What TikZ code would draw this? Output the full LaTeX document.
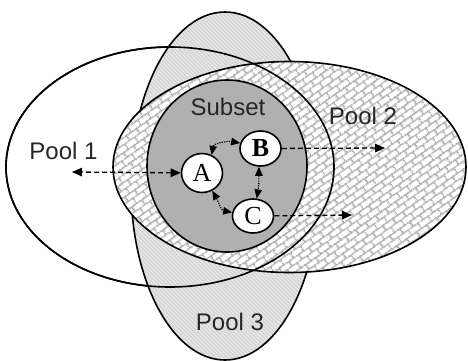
\documentclass[tikz,border=0pt]{standalone}
\usepackage{fontspec}
\setmainfont{Liberation Serif}
\newfontfamily\labelfont{Liberation Sans}
\usetikzlibrary{shapes.geometric,arrows.meta,patterns.meta}

% slanted brick texture for Pool 2
\tikzdeclarepattern{
  name=slantbricks,
  type=uncolored,
  bounding box={(0pt,0pt) and (12pt,12pt)},
  tile size={(12pt,12pt)},
  tile transformation={rotate=35},
  code={
    \draw[line width=1.8pt] (0pt,3pt) -- (12pt,3pt)
      (0pt,9pt) -- (12pt,9pt)
      (3pt,3pt) -- (3pt,9pt)
      (9pt,9pt) -- (9pt,12pt)
      (9pt,0pt) -- (9pt,3pt);
  }
}

% fine diagonal hatching for Pool 3
\tikzdeclarepattern{
  name=finehatch,
  type=uncolored,
  bounding box={(0pt,0pt) and (2.6pt,2.6pt)},
  tile size={(2.6pt,2.6pt)},
  tile transformation={rotate=-45},
  code={
    \draw[line width=0.5pt] (0pt,1.3pt) -- (2.6pt,1.3pt);
  }
}

\begin{document}
\begin{tikzpicture}[x=1pt,y=1pt,
  outline/.style={line width=1.6pt},
  poollabel/.style={font=\labelfont\fontsize{24}{28}\selectfont, text=black!85},
  agent/.style={ellipse, draw, line width=1.6pt, fill=white, inner sep=0pt,
    minimum width=41pt, minimum height=36pt, font=\fontsize{26}{30}\selectfont},
  flow/.style={line width=1.3pt, dash pattern=on 5pt off 3pt},
  bigtip/.style={-{Triangle[length=10pt,width=8.5pt]}},
  bigtips/.style={{Triangle[length=10pt,width=8.5pt]}-{Triangle[length=10pt,width=8.5pt]}},
  link/.style={line width=1.1pt, dash pattern=on 1.3pt off 1.1pt,
    {Triangle[length=9pt,width=7.5pt]}-{Triangle[length=9pt,width=7.5pt]}},
]
\useasboundingbox (0,0) rectangle (468,-360);

% Pool 1
\fill[white] (170,-167) ellipse [x radius=164pt, y radius=120pt];
\draw[outline] (170,-167) ellipse [x radius=164pt, y radius=120pt];

% Pool 3
\fill[gray!22] (225,-186) ellipse [x radius=94pt, y radius=174pt];
\fill[pattern=finehatch, pattern color=gray!50] (225,-186) ellipse [x radius=94pt, y radius=174pt];
\draw[outline] (225,-186) ellipse [x radius=94pt, y radius=174pt];

% Pool 2
\fill[white] (289.5,-167) ellipse [x radius=176.5pt, y radius=105.5pt];
\fill[pattern=slantbricks, pattern color=gray!58] (289.5,-167) ellipse [x radius=176.5pt, y radius=105.5pt];
\draw[outline] (289.5,-167) ellipse [x radius=176.5pt, y radius=105.5pt];

% Pool 1 border stays visible over the other pools
\draw[outline] (170,-167) ellipse [x radius=164pt, y radius=120pt];

% Subset
\fill[gray!62] (227,-166) ellipse [x radius=80pt, y radius=86pt];
\draw[outline] (227,-166) ellipse [x radius=80pt, y radius=86pt];

% labels
\node[poollabel] (l1) at (63.5,-150.5) {Pool 1};
\node[poollabel] (l2) at (363,-116) {Pool 2};
\node[poollabel] (l3) at (230,-322) {Pool 3};
\node[poollabel] (ls) at (228,-106.5) {Subset};

% agents
\node[agent, minimum height=39pt] (A) at (202,-173) {A};
\node[agent, minimum height=35pt] (B) at (260.5,-148.5) {\textbf{B}};
\node[agent, minimum height=34pt] (C) at (253,-216) {C};

% free ends of the outgoing flows
\coordinate (p1) at (72,-172);
\coordinate (p2) at (385,-148);
\coordinate (p3) at (352,-215);

\draw[flow, bigtips] (A) -- (p1);
\draw[flow, bigtip] (B) -- (p2);
\draw[flow, bigtip] (C) -- (p3);

% exchanges inside the subset
\draw[link] (A.62) to[out=80, in=170] (B.165);
\draw[link] (A.-60) to[out=-60, in=170] (C.170);
\draw[link] (B.-95) to[out=-90, in=80] (C.78);
\end{tikzpicture}
\end{document}
